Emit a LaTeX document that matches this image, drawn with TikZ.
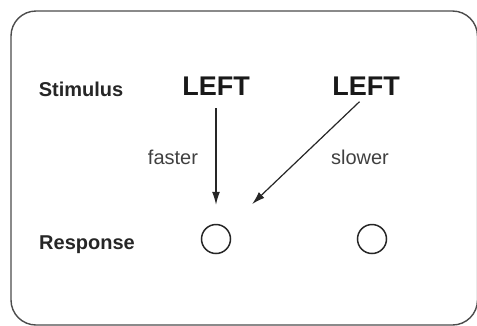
\documentclass[tikz,border=0pt]{standalone}
\usepackage{fontspec}
\setmainfont{Liberation Sans}
\usetikzlibrary{positioning}
\usetikzlibrary{arrows.meta}

\tikzset{
  rowname/.style={font=\fontsize{20}{24}\selectfont\bfseries, inner sep=0pt, text=black!85},
  stim/.style={font=\fontsize{27}{32}\selectfont\bfseries, inner sep=0pt, text=black!90},
  cue/.style={font=\fontsize{20}{24}\selectfont, inner sep=0pt, text=black!75},
  resp/.style={circle, draw=black!85, line width=1.5pt, minimum size=29pt, inner sep=0pt},
  arr/.style={-{Latex[length=13pt,width=8pt]}, line width=1.2pt, draw=black!85}
}

\begin{document}
\begin{tikzpicture}[x=1pt,y=-1pt]
\useasboundingbox (0,0) rectangle (477,325);
\draw[rounded corners=25pt, line width=1.4pt, black!70] (11,11) rectangle (477.5,325);

\node[rowname] (stimulus) at (81,89) {Stimulus};
\node[rowname] (response) at (87,245) {Response};

\node[stim] (left1) at (216,86) {LEFT};
\node[stim] (left2) at (366,86) {LEFT};

\node[resp] (resp1) at (216,239) {};
\node[resp] (resp2) at (372,239) {};

\node[cue] (faster) at (173,157) {faster};
\node[cue] (slower) at (360,157) {slower};

\draw[arr, shorten <=13pt, shorten >=19pt] (left1.south) -- (resp1.north);
\draw[arr, shorten <=9pt, shorten >=35pt] (left2.south) -- (resp1.north east);

\end{tikzpicture}
\end{document}
